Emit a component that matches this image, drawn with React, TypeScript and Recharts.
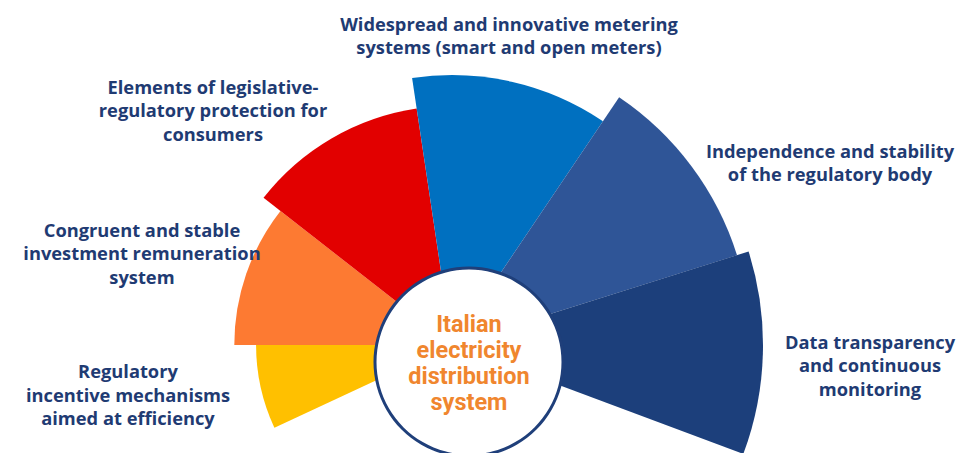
import React from 'react';
import { PieChart, Pie, Cell } from 'recharts';

// Pillars of the system, listed clockwise from the bottom-left
const categories = [
    'Regulatory incentive mechanisms aimed at efficiency',
    'Congruent and stable investment remuneration system',
    'Elements of legislative-regulatory protection for consumers',
    'Widespread and innovative metering systems (smart and open meters)',
    'Independence and stability of the regulatory body',
    'Data transparency and continuous monitoring',
];

// Angular share of each petal (degrees of the fan)
const spans = [25, 38, 43.5, 42.5, 38.5, 38];

// Relative reach of each petal (100 = longest)
const reach = [63, 70, 76.9, 86.8, 96.1, 100];

// Label text, one entry per line
const labelLines = [
    ['Regulatory', 'incentive mechanisms', 'aimed at efficiency'],
    ['Congruent and stable', 'investment remuneration', 'system'],
    ['Elements of legislative-', 'regulatory protection for', 'consumers'],
    ['Widespread and innovative metering', 'systems (smart and open meters)'],
    ['Independence and stability', 'of the regulatory body'],
    ['Data transparency', 'and continuous', 'monitoring'],
];

const centerLines = ['Italian', 'electricity', 'distribution', 'system'];

const colors = ['#ffc000', '#fd7a32', '#e20000', '#0070c0', '#2f5597', '#1c3f7b'];
const labelPos = [
    { x: 128, y: 359 },
    { x: 142, y: 217.5 },
    { x: 213, y: 74.5 },
    { x: 509, y: 11.5 },
    { x: 830, y: 138.5 },
    { x: 870, y: 329.5 },
];

const W = 960;
const H = 453;
const CX = 452;
const CY = 345;
const R_MAX = 311;
const START_ANGLE = 205;

const NAVY = '#1f3b73';
const LABEL_FONT = '"Open Sans", "Noto Sans", sans-serif';
const HUB_FONT = 'Roboto, "Open Sans", sans-serif';

let cursor = START_ANGLE;
const petals = categories.map((name, i) => {
    const start = cursor;
    cursor -= spans[i];
    return { name, value: spans[i], start, end: cursor, radius: (R_MAX * reach[i]) / 100, color: colors[i] };
});

export default function DistributionFan() {
    return (
        <div style={{ position: 'absolute', left: 0, top: 0, width: W, height: H, background: '#fff', overflow: 'hidden' }}>
            <PieChart width={W} height={H} margin={{ top: 0, right: 0, bottom: 0, left: 0 }}>
                {petals.map((p) => (
                    <Pie
                        key={p.name}
                        name={p.name}
                        data={[p]}
                        dataKey="value"
                        cx={CX}
                        cy={CY}
                        innerRadius={0}
                        outerRadius={p.radius}
                        startAngle={p.start}
                        endAngle={p.end}
                        stroke="none"
                        isAnimationActive={false}
                    >
                        <Cell fill={p.color} />
                    </Pie>
                ))}

                {/* white hub with navy rim */}
                <Pie data={[{ v: 1 }]} dataKey="v" cx={469} cy={362} innerRadius={0} outerRadius={94} startAngle={90} endAngle={-270} fill="#fff" stroke="none" isAnimationActive={false} />
                <Pie data={[{ v: 1 }]} dataKey="v" cx={469} cy={362} innerRadius={92.5} outerRadius={95.5} startAngle={90} endAngle={-270} fill="#1f3f7a" stroke="none" isAnimationActive={false} />
            </PieChart>

            {labelLines.map((lines, i) => (
                <div
                    key={categories[i]}
                    style={{
                        position: 'absolute',
                        left: labelPos[i].x - 200,
                        top: labelPos[i].y,
                        width: 400,
                        textAlign: 'center',
                        color: NAVY,
                        fontFamily: LABEL_FONT,
                        fontWeight: 700,
                        fontSize: 18.3,
                        lineHeight: '23.6px',
                        whiteSpace: 'nowrap',
                    }}
                >
                    {lines.map((l) => (
                        <div key={l}>{l}</div>
                    ))}
                </div>
            ))}

            <div
                style={{
                    position: 'absolute',
                    left: 469 - 100,
                    top: 310.5,
                    width: 200,
                    textAlign: 'center',
                    color: '#f0862e',
                    fontFamily: HUB_FONT,
                    fontWeight: 700,
                    fontSize: 23.5,
                    lineHeight: '26px',
                }}
            >
                {centerLines.map((l) => (
                    <div key={l}>{l}</div>
                ))}
            </div>
        </div>
    );
}
